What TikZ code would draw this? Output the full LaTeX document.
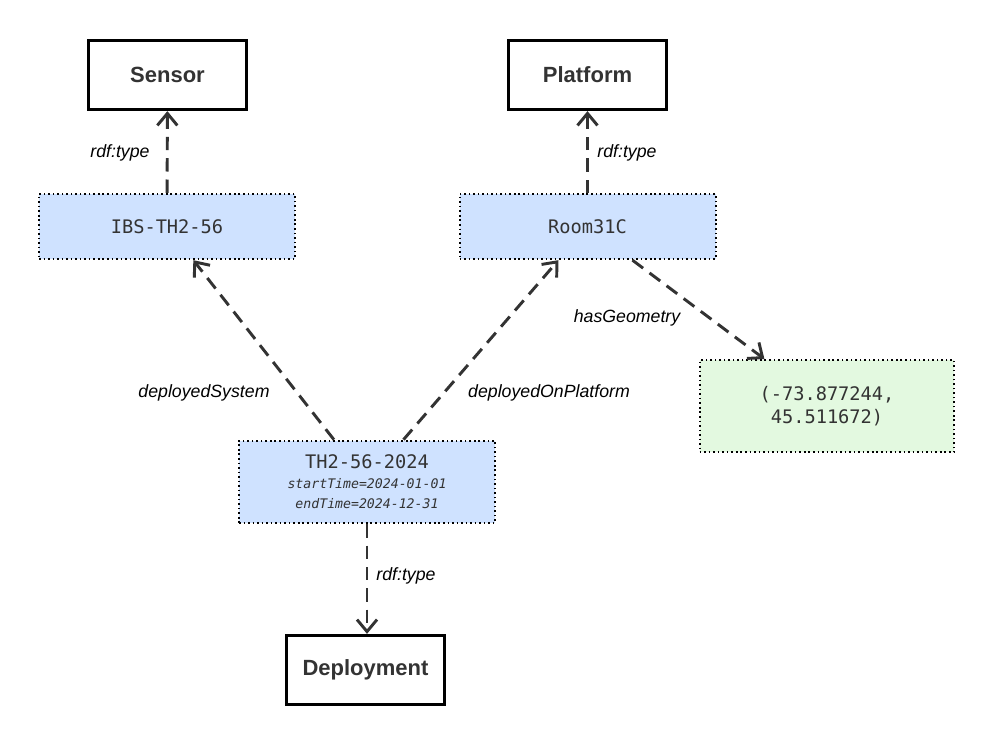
\documentclass[tikz,border=0pt]{standalone}
\usepackage{fontspec}
\setsansfont{Liberation Sans}
\setmonofont{DejaVu Sans Mono}
\usetikzlibrary{arrows.meta}

\definecolor{linegray}{HTML}{333333}
\definecolor{instblue}{HTML}{CFE2FF}
\definecolor{geogreen}{HTML}{E3F9E0}

\begin{document}
\begin{tikzpicture}[x=0.75pt,y=-0.75pt,
  classbox/.style={draw=black, line width=2.2pt, fill=white, minimum width=118pt, minimum height=52pt,
    font=\sffamily\bfseries\fontsize{16.5}{19}\selectfont, text=linegray},
  instbox/.style={draw=black, line width=1.5pt, dash pattern=on 1.2pt off 2.2pt, fill=instblue,
    minimum width=192pt, minimum height=49pt, font=\ttfamily\fontsize{14}{17}\selectfont, text=linegray, align=center},
  geobox/.style={instbox, fill=geogreen, minimum width=191pt, minimum height=69pt},
  rel/.style={draw=linegray, line width=2.2pt, dash pattern=on 10pt off 6pt, -{Straight Barb[length=9pt,width=15pt]}},
  lbl/.style={font=\sffamily\itshape\fontsize{13.3}{15}\selectfont, text=black}]

\useasboundingbox (0,0) rectangle (995,749);

% classes
\node[classbox] (sensor) at (167.5,75) {Sensor};
\node[classbox] (platform) at (587.5,75) {Platform};
\node[classbox] (deployment) at (365.5,670) {Deployment};

% instances
\node[instbox] (ibs) at (167,226.5) {IBS-TH2-56};
\node[instbox] (room) at (587.5,226.5) {Room31C};
\node[instbox, minimum height=62pt] (dep) at (367,482)
  {TH2-56-2024\\[-2pt]{\itshape\fontsize{9.9}{12}\selectfont startTime=2024-01-01}\\[-2pt]{\itshape\fontsize{9.9}{12}\selectfont endTime=2024-12-31}};
\node[geobox] (geo) at (827,406) {(-73.877244,\\45.511672)};

% relations
\draw[rel] (ibs) -- (sensor);
\draw[rel] (room) -- (platform);
\draw[rel] (dep) -- (ibs);
\draw[rel] (dep) -- (room);
\draw[rel] (room) -- (geo);
\draw[rel] (dep.south) -- (dep.south |- deployment.north);

% labels
\node[lbl] (l1) at (120,153) {rdf:type};
\node[lbl] (l2) at (627,153) {rdf:type};
\node[lbl] (l3) at (204,393) {deployedSystem};
\node[lbl] (l4) at (549,393) {deployedOnPlatform};
\node[lbl] (l5) at (627,318) {hasGeometry};
\node[lbl] (l6) at (406,576) {rdf:type};
\end{tikzpicture}
\end{document}
